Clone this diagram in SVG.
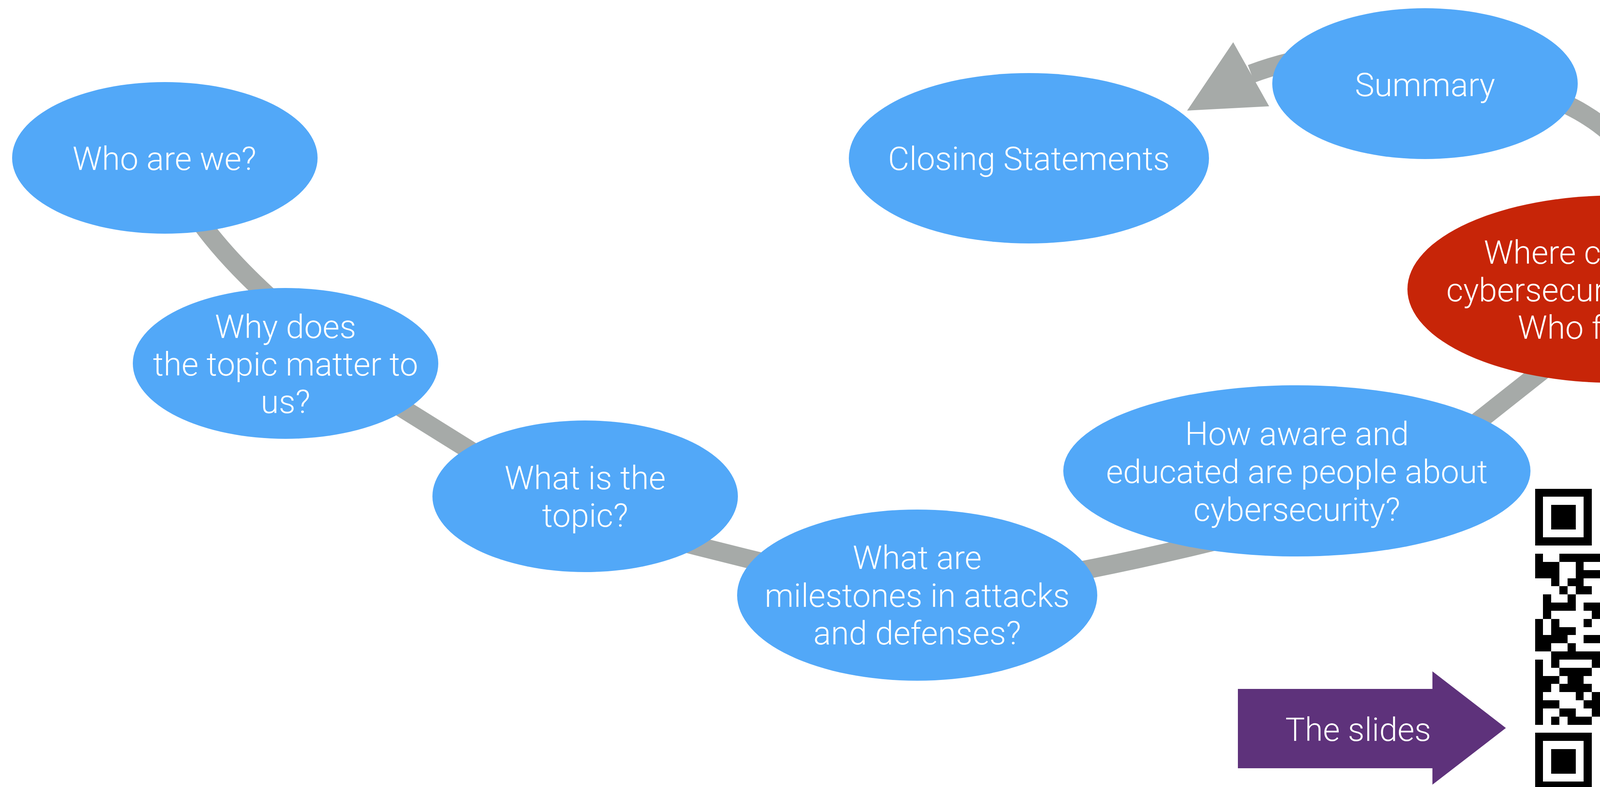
<svg xmlns="http://www.w3.org/2000/svg" width="4716" height="2014" viewBox="0 0 4716 2014">
<style>
.n{fill:#52A8F8}
.r{fill:#C72508}
.t{font-family:Roboto,'Liberation Sans',sans-serif;font-weight:300;font-size:84px;fill:#FFFFFF;text-anchor:middle}
.c{fill:none;stroke:#A6AAA8;stroke-width:48}
</style>
<rect width="4716" height="2014" fill="#FFFFFF"/>
<g id="connectors">
<path class="c" d="M480 520C530 600 600 680 700 770"/>
<path class="c" d="M960 1001L1260 1188"/>
<path class="c" d="M1600 1350Q1850 1415 2100 1475"/>
<path class="c" d="M2550 1500Q2850 1450 3150 1375"/>
<path class="c" d="M3650 1184L4050 868"/>
<path class="c" d="M3900 230C4080 270 4230 400 4262 590"/>
<path class="c" d="M3480 128Q3320 145 3203 189"/>
<polygon points="3157,108 3039,283 3249,272" fill="#A6AAA8"/>
</g>
<g id="who">
<ellipse class="n" cx="422" cy="404" rx="391" ry="194"/>
<text class="t" x="421" y="435">Who are we?</text>
</g>
<g id="why">
<ellipse class="n" cx="731" cy="930" rx="391" ry="193"/>
<text class="t" x="731" y="865">Why does</text>
<text class="t" x="731" y="961">the topic matter to</text>
<text class="t" x="731" y="1057">us?</text>
</g>
<g id="what">
<ellipse class="n" cx="1498" cy="1270" rx="391" ry="194"/>
<text class="t" x="1498" y="1252">What is the</text>
<text class="t" x="1498" y="1348">topic?</text>
</g>
<g id="milestones">
<ellipse class="n" cx="2348" cy="1523" rx="461" ry="219"/>
<text class="t" x="2348" y="1456">What are</text>
<text class="t" x="2348" y="1553">milestones in attacks</text>
<text class="t" x="2348" y="1649">and defenses?</text>
</g>
<g id="aware">
<ellipse class="n" cx="3320" cy="1205" rx="598" ry="219"/>
<text class="t" x="3320" y="1139">How aware and</text>
<text class="t" x="3320" y="1236">educated are people about</text>
<text class="t" x="3320" y="1333">cybersecurity?</text>
</g>
<g id="research">
<ellipse class="r" cx="4137" cy="740" rx="534" ry="240"/>
<text class="t" x="4137" y="675">Where can we find</text>
<text class="t" x="4137" y="771">cybersecurity research?</text>
<text class="t" x="4137" y="867">Who funds it?</text>
</g>
<g id="summary">
<ellipse class="n" cx="3648" cy="214" rx="391" ry="193"/>
<text class="t" x="3648" y="246">Summary</text>
</g>
<g id="closing">
<ellipse class="n" cx="2634" cy="405" rx="461" ry="218"/>
<text class="t" x="2634" y="435">Closing Statements</text>
</g>
<g id="slides">
<polygon points="3169,1763 3667,1763 3667,1718 3855,1863 3667,2008 3667,1966 3169,1966" fill="#5E327B"/>
<text class="t" x="3477" y="1896">The slides</text>
</g>
<g id="qr" transform="translate(3929.5 1250.5) scale(20.83)" shape-rendering="crispEdges">
<path fill="#000000" d="M0 0h7v1h-7zM8 0h1v1h-1zM18 0h1v1h-1zM21 0h1v1h-1zM24 0h1v1h-1zM26 0h1v1h-1zM30 0h7v1h-7z
M0 1h1v1h-1zM6 1h1v1h-1zM8 1h1v1h-1zM10 1h2v1h-2zM14 1h1v1h-1zM17 1h1v1h-1zM19 1h2v1h-2zM22 1h1v1h-1zM24 1h3v1h-3zM28 1h1v1h-1zM30 1h1v1h-1zM36 1h1v1h-1z
M0 2h1v1h-1zM2 2h3v1h-3zM6 2h1v1h-1zM8 2h2v1h-2zM11 2h1v1h-1zM13 2h1v1h-1zM15 2h2v1h-2zM19 2h3v1h-3zM23 2h5v1h-5zM30 2h1v1h-1zM32 2h3v1h-3zM36 2h1v1h-1z
M0 3h1v1h-1zM2 3h3v1h-3zM6 3h1v1h-1zM14 3h5v1h-5zM20 3h2v1h-2zM24 3h3v1h-3zM28 3h1v1h-1zM30 3h1v1h-1zM32 3h3v1h-3zM36 3h1v1h-1z
M0 4h1v1h-1zM2 4h3v1h-3zM6 4h1v1h-1zM8 4h1v1h-1zM12 4h1v1h-1zM14 4h1v1h-1zM16 4h2v1h-2zM19 4h3v1h-3zM26 4h1v1h-1zM28 4h1v1h-1zM30 4h1v1h-1zM32 4h3v1h-3zM36 4h1v1h-1z
M0 5h1v1h-1zM6 5h1v1h-1zM9 5h1v1h-1zM11 5h1v1h-1zM13 5h1v1h-1zM16 5h1v1h-1zM20 5h4v1h-4zM25 5h1v1h-1zM28 5h1v1h-1zM30 5h1v1h-1zM36 5h1v1h-1z
M0 6h7v1h-7zM8 6h1v1h-1zM10 6h1v1h-1zM12 6h1v1h-1zM14 6h1v1h-1zM16 6h1v1h-1zM18 6h1v1h-1zM20 6h1v1h-1zM22 6h1v1h-1zM24 6h1v1h-1zM26 6h1v1h-1zM28 6h1v1h-1zM30 6h7v1h-7z
M10 7h2v1h-2zM14 7h1v1h-1zM16 7h1v1h-1zM18 7h1v1h-1zM20 7h1v1h-1zM23 7h3v1h-3zM27 7h2v1h-2z
M0 8h1v1h-1zM3 8h8v1h-8zM12 8h2v1h-2zM15 8h2v1h-2zM18 8h2v1h-2zM21 8h1v1h-1zM25 8h2v1h-2zM28 8h2v1h-2zM32 8h1v1h-1zM34 8h3v1h-3z
M0 9h3v1h-3zM5 9h1v1h-1zM11 9h1v1h-1zM13 9h2v1h-2zM18 9h2v1h-2zM21 9h1v1h-1zM23 9h3v1h-3zM27 9h1v1h-1zM30 9h4v1h-4zM35 9h1v1h-1z
M0 10h3v1h-3zM5 10h3v1h-3zM11 10h2v1h-2zM14 10h1v1h-1zM18 10h1v1h-1zM20 10h1v1h-1zM22 10h4v1h-4zM27 10h5v1h-5zM34 10h1v1h-1zM36 10h1v1h-1z
M2 11h1v1h-1zM4 11h2v1h-2zM8 11h3v1h-3zM14 11h2v1h-2zM17 11h2v1h-2zM22 11h3v1h-3zM27 11h2v1h-2zM31 11h6v1h-6z
M3 12h1v1h-1zM5 12h2v1h-2zM9 12h1v1h-1zM11 12h2v1h-2zM14 12h1v1h-1zM16 12h1v1h-1zM18 12h2v1h-2zM23 12h1v1h-1zM27 12h2v1h-2zM30 12h2v1h-2zM34 12h1v1h-1zM36 12h1v1h-1z
M1 13h1v1h-1zM4 13h1v1h-1zM8 13h1v1h-1zM10 13h1v1h-1zM12 13h2v1h-2zM15 13h1v1h-1zM17 13h2v1h-2zM21 13h3v1h-3zM26 13h4v1h-4zM31 13h3v1h-3zM35 13h2v1h-2z
M1 14h4v1h-4zM6 14h2v1h-2zM13 14h1v1h-1zM15 14h5v1h-5zM26 14h2v1h-2zM30 14h1v1h-1zM32 14h5v1h-5z
M1 15h1v1h-1zM7 15h2v1h-2zM10 15h1v1h-1zM17 15h3v1h-3zM27 15h3v1h-3zM31 15h1v1h-1zM33 15h4v1h-4z
M0 16h1v1h-1zM2 16h1v1h-1zM6 16h1v1h-1zM8 16h3v1h-3zM12 16h2v1h-2zM15 16h3v1h-3zM19 16h1v1h-1zM22 16h2v1h-2zM27 16h2v1h-2zM30 16h3v1h-3zM34 16h1v1h-1zM36 16h1v1h-1z
M0 17h1v1h-1zM2 17h3v1h-3zM9 17h1v1h-1zM13 17h2v1h-2zM16 17h5v1h-5zM24 17h1v1h-1zM30 17h1v1h-1zM34 17h1v1h-1z
M0 18h4v1h-4zM6 18h4v1h-4zM11 18h2v1h-2zM15 18h1v1h-1zM17 18h5v1h-5zM23 18h2v1h-2zM27 18h3v1h-3zM31 18h4v1h-4zM36 18h1v1h-1z
M0 19h2v1h-2zM4 19h1v1h-1zM8 19h1v1h-1zM10 19h2v1h-2zM13 19h1v1h-1zM18 19h1v1h-1zM23 19h5v1h-5zM29 19h2v1h-2zM33 19h1v1h-1zM36 19h1v1h-1z
M2 20h8v1h-8zM12 20h4v1h-4zM17 20h2v1h-2zM24 20h1v1h-1zM26 20h8v1h-8z
M0 21h1v1h-1zM2 21h1v1h-1zM7 21h4v1h-4zM12 21h2v1h-2zM15 21h2v1h-2zM19 21h1v1h-1zM22 21h2v1h-2zM25 21h1v1h-1zM27 21h1v1h-1zM32 21h1v1h-1zM34 21h2v1h-2z
M0 22h1v1h-1zM3 22h4v1h-4zM9 22h1v1h-1zM13 22h3v1h-3zM17 22h2v1h-2zM21 22h1v1h-1zM23 22h3v1h-3zM27 22h1v1h-1zM29 22h1v1h-1zM31 22h1v1h-1zM33 22h1v1h-1zM35 22h2v1h-2z
M0 23h3v1h-3zM4 23h2v1h-2zM8 23h4v1h-4zM14 23h1v1h-1zM16 23h2v1h-2zM19 23h2v1h-2zM22 23h1v1h-1zM24 23h1v1h-1zM27 23h2v1h-2zM30 23h6v1h-6z
M0 24h2v1h-2zM3 24h4v1h-4zM8 24h1v1h-1zM10 24h1v1h-1zM13 24h6v1h-6zM20 24h1v1h-1zM23 24h1v1h-1zM25 24h1v1h-1zM27 24h1v1h-1zM30 24h2v1h-2zM35 24h2v1h-2z
M0 25h1v1h-1zM5 25h1v1h-1zM7 25h5v1h-5zM16 25h1v1h-1zM20 25h1v1h-1zM23 25h6v1h-6zM32 25h1v1h-1z
M0 26h3v1h-3zM6 26h4v1h-4zM13 26h1v1h-1zM16 26h4v1h-4zM21 26h2v1h-2zM27 26h1v1h-1zM30 26h1v1h-1zM34 26h3v1h-3z
M0 27h1v1h-1zM3 27h2v1h-2zM7 27h2v1h-2zM12 27h4v1h-4zM18 27h1v1h-1zM23 27h2v1h-2zM26 27h1v1h-1zM31 27h6v1h-6z
M0 28h1v1h-1zM2 28h1v1h-1zM4 28h3v1h-3zM10 28h2v1h-2zM16 28h1v1h-1zM18 28h3v1h-3zM22 28h2v1h-2zM25 28h10v1h-10z
M8 29h2v1h-2zM13 29h4v1h-4zM19 29h2v1h-2zM25 29h1v1h-1zM27 29h2v1h-2zM32 29h1v1h-1zM34 29h1v1h-1z
M0 30h7v1h-7zM8 30h2v1h-2zM11 30h1v1h-1zM13 30h3v1h-3zM19 30h1v1h-1zM21 30h4v1h-4zM28 30h1v1h-1zM30 30h1v1h-1zM32 30h1v1h-1zM35 30h2v1h-2z
M0 31h1v1h-1zM6 31h1v1h-1zM8 31h7v1h-7zM16 31h5v1h-5zM22 31h1v1h-1zM24 31h2v1h-2zM27 31h2v1h-2zM32 31h1v1h-1zM35 31h2v1h-2z
M0 32h1v1h-1zM2 32h3v1h-3zM6 32h1v1h-1zM8 32h2v1h-2zM14 32h1v1h-1zM25 32h8v1h-8zM35 32h1v1h-1z
M0 33h1v1h-1zM2 33h3v1h-3zM6 33h1v1h-1zM8 33h1v1h-1zM12 33h1v1h-1zM14 33h1v1h-1zM16 33h1v1h-1zM18 33h2v1h-2zM21 33h1v1h-1zM25 33h6v1h-6zM33 33h1v1h-1zM36 33h1v1h-1z
M0 34h1v1h-1zM2 34h3v1h-3zM6 34h1v1h-1zM10 34h2v1h-2zM15 34h2v1h-2zM18 34h1v1h-1zM20 34h4v1h-4zM25 34h1v1h-1zM29 34h1v1h-1zM31 34h4v1h-4zM36 34h1v1h-1z
M0 35h1v1h-1zM6 35h1v1h-1zM9 35h2v1h-2zM12 35h1v1h-1zM14 35h1v1h-1zM16 35h3v1h-3zM21 35h3v1h-3zM26 35h1v1h-1zM29 35h4v1h-4zM34 35h1v1h-1zM36 35h1v1h-1z
M0 36h7v1h-7zM8 36h4v1h-4zM13 36h4v1h-4zM18 36h1v1h-1zM20 36h1v1h-1zM28 36h2v1h-2zM31 36h1v1h-1zM33 36h2v1h-2zM36 36h1v1h-1z"/>
</g>
</svg>
